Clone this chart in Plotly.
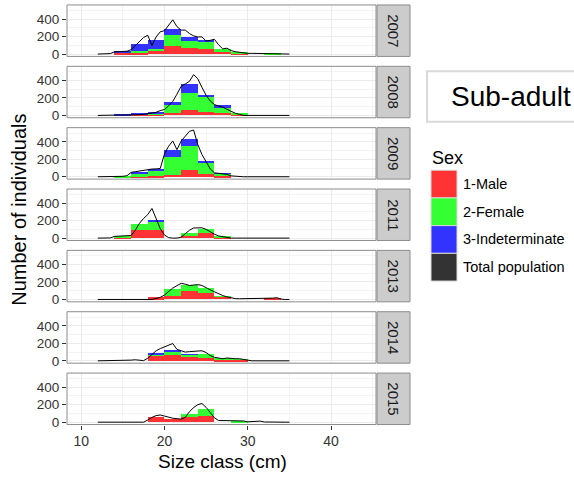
import plotly.graph_objects as go

# ---------------- data ----------------
years = ["2007", "2008", "2009", "2011", "2013", "2014", "2015"]
bin_centers = [15, 17, 19, 21, 23, 25, 27, 29, 31, 33]
line_x = [12 + 0.5 * k for k in range(47)]  # size classes 12 .. 35 cm

male_2007 = [15, 20, 39, 98, 67, 55, 27, 12, 0, 0]
female_2007 = [5, 10, 20, 118, 78, 85, 32, 10, 0, 8]
indet_2007 = [20, 88, 98, 70, 51, 20, 0, 0, 0, 0]
total_2007 = [0, 0, 0, 5, 25, 30, 30, 32, 50, 100, 150, 190, 215, 98, 196, 255, 267, 333, 392, 314,
              274, 274, 235, 208, 196, 196, 149, 157, 169, 106, 59, 67, 39, 27, 20, 12, 8, 8, 8, 8,
              8, 8, 8, 8, 8, 3, 0]

male_2008 = [0, 2, 8, 27, 59, 35, 27, 8, 0, 0]
female_2008 = [0, 3, 12, 87, 192, 177, 59, 19, 0, 0]
indet_2008 = [3, 10, 15, 31, 110, 23, 28, 0, 0, 0]
total_2008 = [0, 0, 0, 0, 0, 0, 0, 0, 5, 8, 8, 12, 20, 28, 35, 55, 67, 110, 160, 243,
              333, 360, 390, 467, 420, 322, 231, 165, 125, 106, 96, 70, 45, 25, 12, 0, 0, 0, 0, 0,
              0, 0, 0, 0, 0, 0, 0]

male_2009 = [0, 5, 8, 27, 76, 34, 15, 0, 0, 0]
female_2009 = [5, 40, 64, 202, 282, 126, 23, 0, 0, 0]
indet_2009 = [0, 12, 19, 83, 80, 30, 8, 0, 0, 0]
total_2009 = [0, 0, 0, 0, 0, 0, 5, 12, 50, 58, 65, 75, 85, 88, 90, 95, 260, 350, 410, 310,
              408, 465, 520, 535, 370, 255, 170, 90, 45, 38, 32, 27, 10, 4, 0, 0, 0, 0, 0, 0,
              0, 0, 0, 0, 0, 0, 0]

male_2011 = [5, 88, 96, 0, 28, 56, 8, 0, 0, 0]
female_2011 = [15, 68, 92, 0, 28, 52, 12, 0, 0, 0]
indet_2011 = [0, 0, 8, 0, 0, 0, 0, 0, 0, 0]
total_2011 = [0, 0, 0, 2, 20, 22, 24, 26, 30, 90, 170, 225, 270, 340, 228, 108, 36, 5, 0, 0,
              10, 50, 90, 116, 120, 118, 100, 70, 45, 25, 15, 5, 0, 0, 0, 0, 0, 0, 0, 0,
              0, 0, 0, 0, 0, 0, 0]

male_2013 = [0, 0, 20, 40, 91, 71, 24, 0, 0, 15]
female_2013 = [0, 0, 0, 71, 67, 60, 8, 0, 0, 0]
indet_2013 = [0, 0, 0, 0, 0, 0, 0, 0, 0, 0]
total_2013 = [0, 0, 0, 0, 0, 0, 0, 0, 0, 0, 0, 0, 0, 0, 10, 25, 50, 95, 130, 158,
              185, 175, 160, 165, 170, 160, 131, 110, 88, 65, 45, 30, 18, 10, 8, 8, 8, 8, 8, 8,
              8, 10, 15, 20, 4, 0, 0]

male_2014 = [0, 0, 59, 79, 55, 40, 20, 20, 0, 0]
female_2014 = [0, 0, 20, 20, 15, 47, 12, 4, 0, 0]
indet_2014 = [0, 0, 12, 32, 5, 0, 0, 0, 0, 0]
total_2014 = [0, 0, 0, 0, 0, 0, 0, 0, 8, 12, 4, 2, 30, 71, 115, 140, 158, 185, 198, 131,
              111, 100, 105, 111, 115, 115, 95, 60, 40, 28, 24, 32, 25, 24, 24, 15, 4, 0, 0, 0,
              0, 0, 0, 0, 0, 0, 0]

male_2015 = [0, 0, 62, 39, 62, 70, 0, 0, 0, 0]
female_2015 = [0, 0, 0, 0, 27, 81, 0, 10, 0, 0]
indet_2015 = [0, 0, 0, 0, 0, 0, 0, 0, 0, 0]
total_2015 = [0, 0, 0, 0, 0, 0, 0, 0, 0, 0, 0, 0, 25, 55, 75, 82, 70, 55, 45, 40,
              35, 55, 120, 167, 200, 214, 170, 110, 50, 19, 19, 19, 18, 14, 12, 14, 4, 4, 12, 12,
              2, 0, 0, 0, 0, 0, 0]

x_ticks = [10, 20, 30, 40]
y_ticks = [0, 200, 400]

male = [male_2007, male_2008, male_2009, male_2011, male_2013, male_2014, male_2015]
female = [female_2007, female_2008, female_2009, female_2011, female_2013, female_2014, female_2015]
indet = [indet_2007, indet_2008, indet_2009, indet_2011, indet_2013, indet_2014, indet_2015]
total = [total_2007, total_2008, total_2009, total_2011, total_2013, total_2014, total_2015]
for t in total:
    assert len(t) == len(line_x), len(t)

# ---------------- style ----------------
W, H = 574, 480
FONT = "Liberation Sans, Arial, sans-serif"
C_MALE, C_FEM, C_IND, C_TOT = "#FF3333", "#33FF33", "#3333FF", "#333333"
PX0, PX1 = 67, 376
STRIP0, STRIP1 = 377, 410


def fx(p):
    return p / W


def fy(p):
    return 1 - p / H


fig = go.Figure()
shapes = []
annotations = []


def note(text, x, y, size, xanchor="center", yanchor="middle", angle=0, color="black"):
    annotations.append(dict(text=text, xref="paper", yref="paper", x=fx(x), y=fy(y),
                            xanchor=xanchor, yanchor=yanchor, showarrow=False, textangle=angle,
                            font=dict(size=size, color=color, family=FONT)))


for i, yr in enumerate(years):
    n = "" if i == 0 else str(i + 1)
    xa, ya = "x" + n, "y" + n
    top = 5 + 62 * i
    bot = top + 52
    for vals, col, name in [(male[i], C_MALE, "1-Male"), (female[i], C_FEM, "2-Female"),
                            (indet[i], C_IND, "3-Indeterminate")]:
        fig.add_trace(go.Bar(x=bin_centers, y=vals, width=2, marker=dict(color=col, line=dict(width=0)),
                             name=name, showlegend=False, xaxis=xa, yaxis=ya))
    fig.add_trace(go.Scatter(x=line_x, y=total[i], mode="lines", line=dict(color="black", width=1),
                             name="Total population", showlegend=False, xaxis=xa, yaxis=ya))
    last = i == len(years) - 1
    fig.layout["xaxis" + n] = dict(
        domain=[fx(PX0), fx(PX1)], range=[8.3, 45.4], anchor=ya,
        tickvals=x_ticks, showticklabels=last, ticks="outside" if last else "",
        ticklen=4, tickcolor="#333333", tickfont=dict(size=14, color="#333333", family=FONT),
        showgrid=True, gridcolor="#EBEBEB", gridwidth=1, zeroline=False, showline=False,
        minor=dict(tickvals=[15, 25, 35, 45], showgrid=True, gridcolor="#F3F3F3", gridwidth=1),
    )
    fig.layout["yaxis" + n] = dict(
        domain=[fy(bot), fy(top)], range=[-27, 562], anchor=xa,
        tickvals=y_ticks, ticks="outside", ticklen=4, tickcolor="#333333",
        tickfont=dict(size=13.5, color="#333333", family=FONT),
        showgrid=True, gridcolor="#EBEBEB", gridwidth=1, zeroline=False, showline=False,
        minor=dict(tickvals=[100, 300, 500], showgrid=True, gridcolor="#F3F3F3", gridwidth=1),
    )
    # panel border
    shapes.append(dict(type="rect", xref="paper", yref="paper", x0=fx(PX0), x1=fx(PX1),
                       y0=fy(bot), y1=fy(top), line=dict(color="#8C8C8C", width=1), layer="above"))
    # strip
    shapes.append(dict(type="rect", xref="paper", yref="paper", x0=fx(STRIP0), x1=fx(STRIP1),
                       y0=fy(bot), y1=fy(top), fillcolor="#CCCCCC", line=dict(color="#8C8C8C", width=1)))
    note(yr, (STRIP0 + STRIP1) / 2, (top + bot) / 2, 15, angle=90, color="#1A1A1A")

# axis titles
note("Number of individuals", 19, 212, 20, angle=-90)
note("Size class (cm)", 222, 466, 19)

# legend (drawn)
note("Sex", 430, 160, 18, xanchor="left")
leg_items = [("1-Male", C_MALE), ("2-Female", C_FEM), ("3-Indeterminate", C_IND), ("Total population", C_TOT)]
for k, (lab, col) in enumerate(leg_items):
    t = 172 + 28 * k
    shapes.append(dict(type="rect", xref="paper", yref="paper", x0=fx(431), x1=fx(457), y0=fy(t + 28),
                       y1=fy(t), fillcolor=col, line=dict(color="#D9D9D9", width=1)))
    note(lab, 461, t + 14, 14.5, xanchor="left")

# Sub-adult box
shapes.append(dict(type="rect", xref="paper", yref="paper", x0=fx(427), x1=fx(590), y0=fy(123), y1=fy(72),
                   line=dict(color="#D9D9D9", width=2)))
note("Sub-adult", 449, 97.5, 28, xanchor="left")

fig.update_layout(
    width=W, height=H, margin=dict(l=0, r=0, t=0, b=0),
    paper_bgcolor="white", plot_bgcolor="white",
    barmode="stack", bargap=0, showlegend=False,
    shapes=shapes, annotations=annotations,
    font=dict(family=FONT),
)
fig.write_html("out.html", config={"displayModeBar": False},
               post_script="document.body.style.margin='0px';")
